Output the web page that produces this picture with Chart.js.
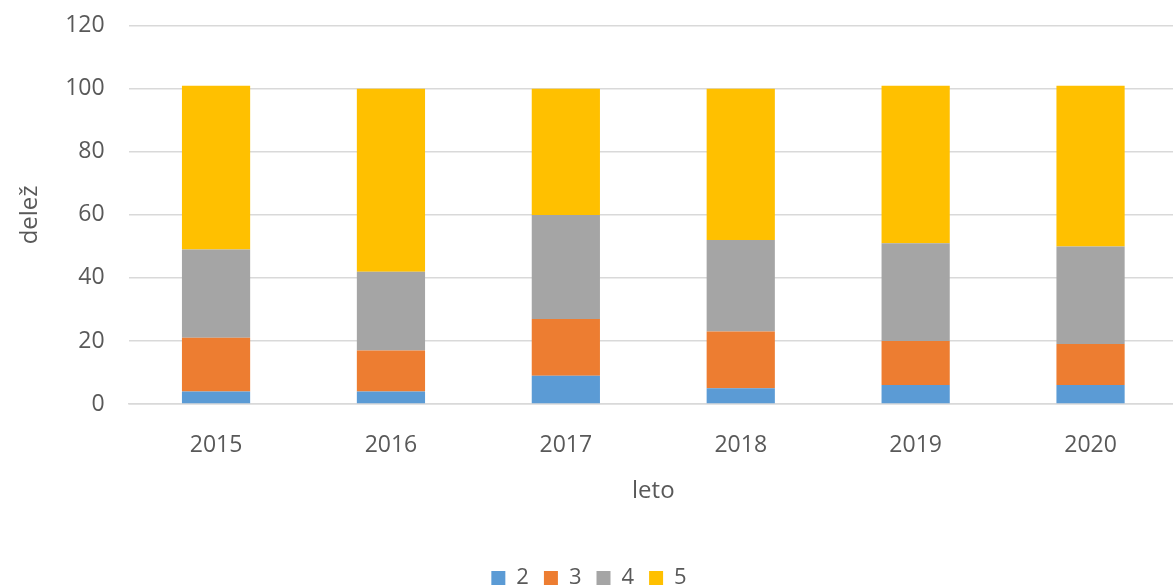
<!DOCTYPE html>
<html>
<head>
<meta charset="utf-8">
<script src="https://cdn.jsdelivr.net/npm/chart.js@4/dist/chart.umd.min.js"></script>
<style>
  html, body { margin: 0; padding: 0; background: #fff; overflow: hidden; }
  #wrap { position: absolute; left: 0; top: -12px; width: 1178px; height: 611px; }
</style>
</head>
<body>
<div id="wrap"><canvas id="chart"></canvas></div>
<script>
// years and share per grade
const years  = ['2015', '2016', '2017', '2018', '2019', '2020'];
const grade2 = [4, 4, 9, 5, 6, 6];
const grade3 = [17, 13, 18, 18, 14, 13];
const grade4 = [28, 25, 33, 29, 31, 31];
const grade5 = [52, 58, 40, 48, 50, 51];
const yTicks = [0, 20, 40, 60, 80, 100, 120];

const textColor = '#595959';
const font = 'Open Sans, Liberation Sans, sans-serif';

function ds(label, data, color) {
  return {
    label, data,
    backgroundColor: color,
    borderWidth: 0,
    barPercentage: 0.39,
    categoryPercentage: 1
  };
}

new Chart(document.getElementById('chart'), {
  type: 'bar',
  data: {
    labels: years,
    datasets: [
      ds('2', grade2, '#5b9bd5'),
      ds('3', grade3, '#ed7d31'),
      ds('4', grade4, '#a5a5a5'),
      ds('5', grade5, '#ffc000')
    ]
  },
  options: {
    responsive: true,
    maintainAspectRatio: false,
    animation: false,
    layout: { padding: 0 },
    plugins: {
      tooltip: { enabled: false },
      legend: {
        position: 'bottom',
        labels: {
          boxWidth: 14, boxHeight: 14,
          color: textColor,
          font: { family: font, size: 22 },
          padding: 15
        }
      }
    },
    scales: {
      x: {
        stacked: true,
        grid: { display: false },
        border: { color: '#d9d9d9', width: 1.5 },
        ticks: { color: textColor, font: { family: font, size: 23 }, padding: 20 },
        title: { display: true, text: 'leto', color: textColor, font: { family: font, size: 24 }, padding: { top: 0, bottom: 46 } },
        afterFit: s => { s.height = 148; }
      },
      y: {
        stacked: true,
        min: 0, max: 120,
        afterBuildTicks: s => { s.ticks = yTicks.map(v => ({ value: v })); },
        grid: { color: '#d9d9d9', lineWidth: 1.5, drawTicks: false },
        border: { display: false },
        ticks: { color: textColor, font: { family: font, size: 23 }, padding: 24 },
        title: { display: true, text: 'delež', color: textColor, font: { family: font, size: 24 }, padding: { top: 16, bottom: 0 } },
        afterFit: s => { s.width = 128.6; }
      }
    }
  }
});
</script>
</body>
</html>
